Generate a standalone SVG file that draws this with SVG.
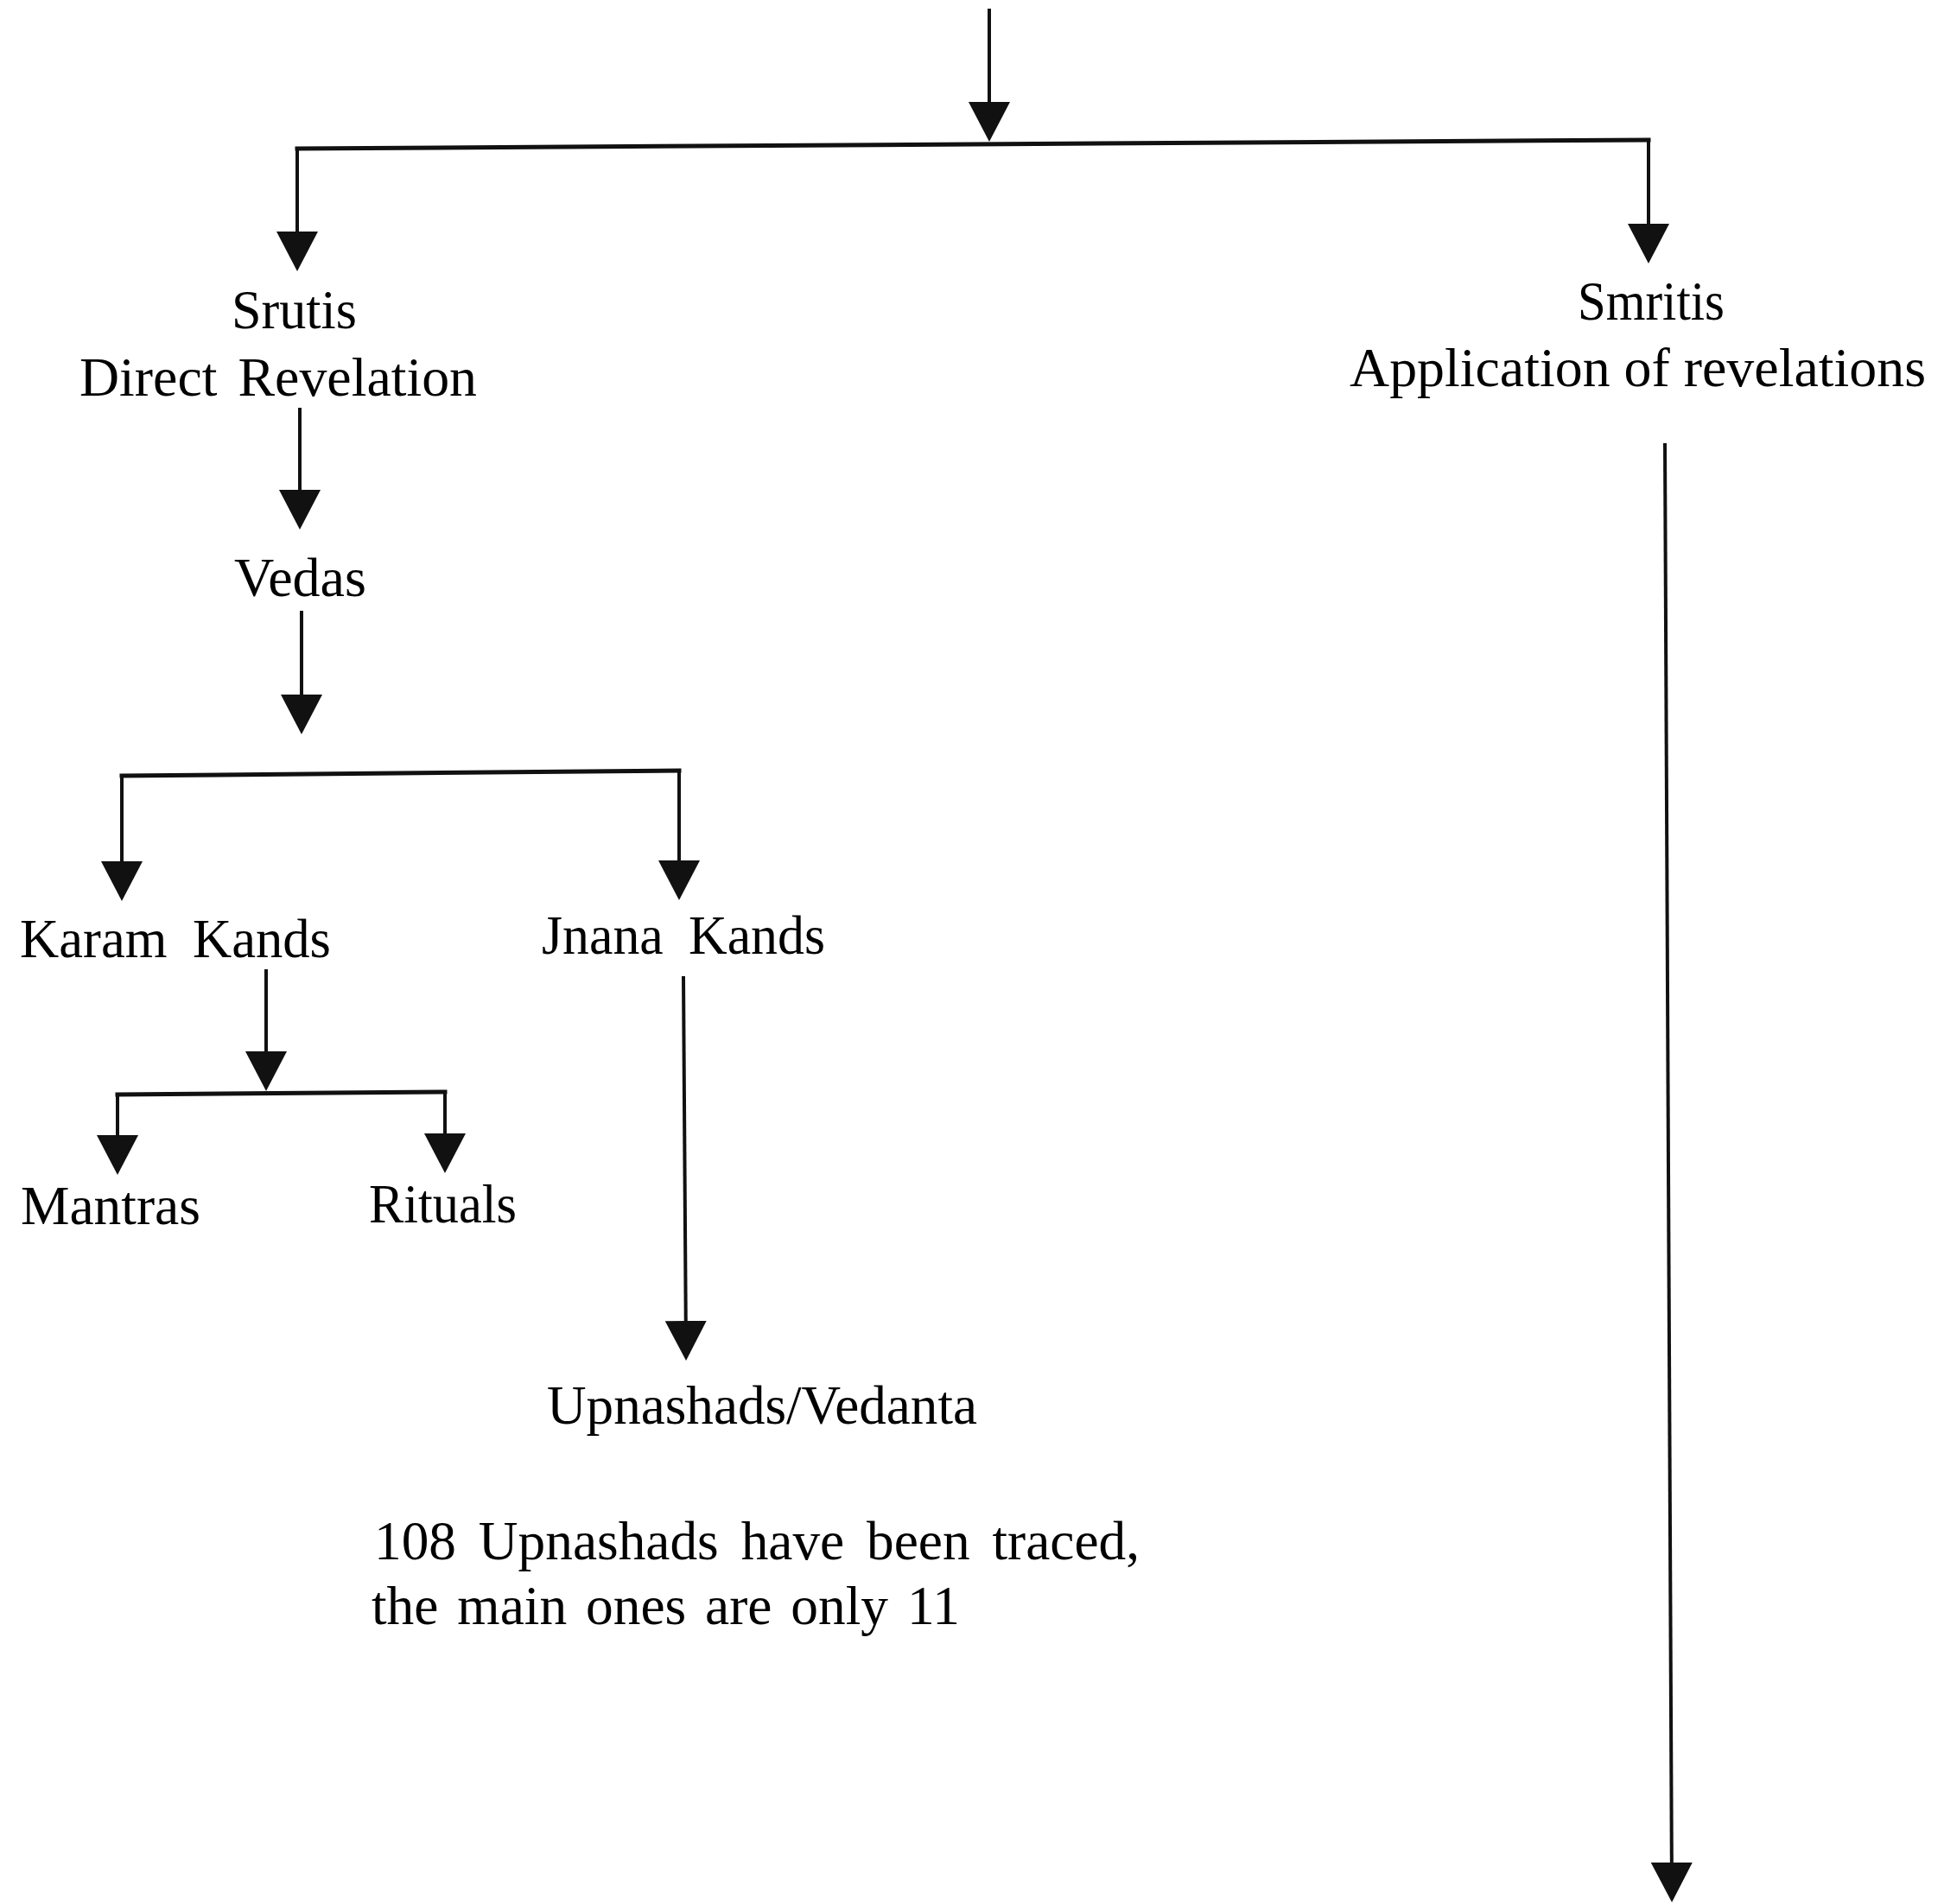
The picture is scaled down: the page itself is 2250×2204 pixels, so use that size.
<svg xmlns="http://www.w3.org/2000/svg" width="2250" height="2204" viewBox="0 0 2250 2204">
<style>
  .lbl { font-family: "Liberation Serif", "Times New Roman", serif; font-size: 63px; fill: #000; }
  .ln { stroke: #111; stroke-width: 4; fill: none; }
  .bar { stroke: #111; stroke-width: 5; fill: none; stroke-linecap: square; }
</style>
<defs>
  <marker id="ah" viewBox="0 0 46 48" refX="36" refY="24" markerWidth="46" markerHeight="48" markerUnits="userSpaceOnUse" orient="auto">
    <path d="M0,0 L46,24 L0,48 Z" fill="#111"/>
  </marker>
</defs>
<rect width="2250" height="2204" fill="#fff"/>

<g id="connectors">
  <line class="ln" x1="1145" y1="10" x2="1145" y2="154" marker-end="url(#ah)"/>
  <line class="bar" x1="344" y1="172" x2="1908" y2="162"/>
  <line class="ln" x1="344" y1="172" x2="344" y2="304" marker-end="url(#ah)"/>
  <line class="ln" x1="1908" y1="162" x2="1908" y2="295" marker-end="url(#ah)"/>
  <line class="ln" x1="347" y1="472" x2="347" y2="603" marker-end="url(#ah)"/>
  <line class="ln" x1="349" y1="707" x2="349" y2="840" marker-end="url(#ah)"/>
  <line class="bar" x1="141" y1="898" x2="786" y2="892"/>
  <line class="ln" x1="141" y1="898" x2="141" y2="1033" marker-end="url(#ah)"/>
  <line class="ln" x1="786" y1="892" x2="786" y2="1032" marker-end="url(#ah)"/>
  <line class="ln" x1="308" y1="1122" x2="308" y2="1253" marker-end="url(#ah)"/>
  <line class="bar" x1="136" y1="1267" x2="515" y2="1264"/>
  <line class="ln" x1="136" y1="1267" x2="136" y2="1350" marker-end="url(#ah)"/>
  <line class="ln" x1="515" y1="1264" x2="515" y2="1348" marker-end="url(#ah)"/>
  <line class="ln" x1="791" y1="1130" x2="794" y2="1565" marker-end="url(#ah)"/>
  <line class="ln" x1="1927" y1="513" x2="1935" y2="2192" marker-end="url(#ah)"/>
</g>

<g id="node-srutis">
  <text class="lbl" x="268" y="380" textLength="145" lengthAdjust="spacingAndGlyphs">Srutis</text>
  <text class="lbl" x="92" y="458" textLength="460" lengthAdjust="spacingAndGlyphs" word-spacing="8">Direct Revelation</text>
</g>
<g id="node-smritis">
  <text class="lbl" x="1826" y="370" textLength="170" lengthAdjust="spacingAndGlyphs">Smritis</text>
  <text class="lbl" x="1562" y="447" textLength="667" lengthAdjust="spacingAndGlyphs">Application of revelations</text>
</g>
<g id="node-vedas">
  <text class="lbl" x="271" y="690" textLength="153" lengthAdjust="spacingAndGlyphs">Vedas</text>
</g>
<g id="node-karam">
  <text class="lbl" x="23" y="1108" textLength="360" lengthAdjust="spacingAndGlyphs" word-spacing="14">Karam Kands</text>
</g>
<g id="node-jnana">
  <text class="lbl" x="627" y="1104" textLength="328" lengthAdjust="spacingAndGlyphs" word-spacing="14">Jnana Kands</text>
</g>
<g id="node-mantras">
  <text class="lbl" x="24" y="1417" textLength="208" lengthAdjust="spacingAndGlyphs">Mantras</text>
</g>
<g id="node-rituals">
  <text class="lbl" x="427" y="1415" textLength="171" lengthAdjust="spacingAndGlyphs">Rituals</text>
</g>
<g id="node-upnashads">
  <text class="lbl" x="633" y="1648" textLength="498" lengthAdjust="spacingAndGlyphs">Upnashads/Vedanta</text>
</g>
<g id="note">
  <text class="lbl" x="433" y="1805" textLength="886" lengthAdjust="spacingAndGlyphs" word-spacing="10">108 Upnashads have been traced,</text>
  <text class="lbl" x="430" y="1880" textLength="681" lengthAdjust="spacingAndGlyphs" word-spacing="6">the main ones are only 11</text>
</g>
</svg>
